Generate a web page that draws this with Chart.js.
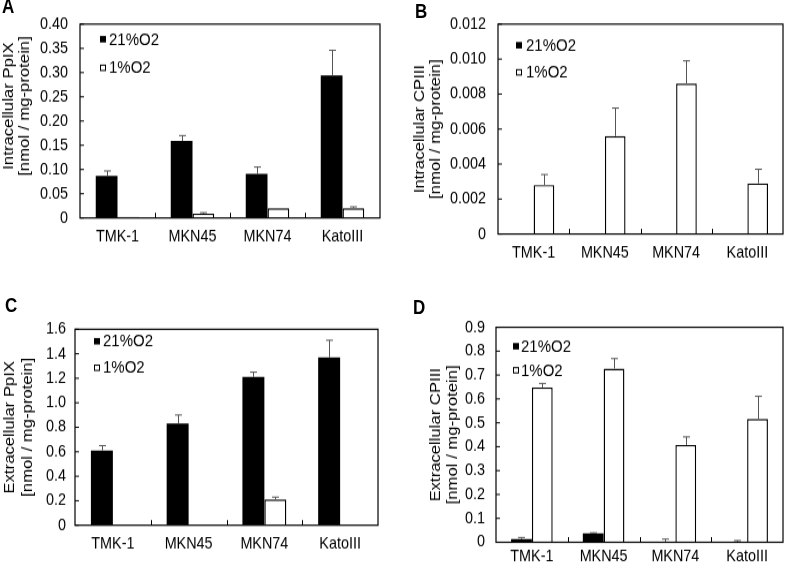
<!DOCTYPE html>
<html>
<head>
<meta charset="utf-8">
<script src="https://cdn.jsdelivr.net/npm/chart.js@4.4.1/dist/chart.umd.min.js"></script>
<style>
  html, body { margin: 0; padding: 0; background: #fff; }
  body { width: 786px; height: 565px; overflow: hidden; position: relative; }
  #stage { position: absolute; left: 0; top: 0; width: 786px; transform-origin: 0 0; }
  .panel { position: absolute; }
  .letter { position: absolute; font: bold 17px 'Liberation Sans', Arial, sans-serif; line-height: 1; color: #000; }
</style>
</head>
<body>
<div id="stage"></div>
<script>
// Categories and series
const cellLines = ['TMK-1', 'MKN45', 'MKN74', 'KatoIII'];
const seriesNames = ['21%O2', '1%O2'];

// A - intracellular PpIX (value, SD)
const inPpix21 = [0.087, 0.159, 0.091, 0.294];
const inPpix21Sd = [0.010, 0.011, 0.014, 0.052];
const inPpix1 = [0.002, 0.009, 0.020, 0.020];
const inPpix1Sd = [0, 0.002, 0, 0.003];

// B - intracellular CPIII
const inCp21 = [0, 0, 0, 0];
const inCp21Sd = [0, 0, 0, 0];
const inCp1 = [0.0028, 0.0056, 0.0086, 0.0029];
const inCp1Sd = [0.0006, 0.0016, 0.0013, 0.0008];

// C - extracellular PpIX
const exPpix21 = [0.61, 0.83, 1.21, 1.37];
const exPpix21Sd = [0.04, 0.07, 0.04, 0.14];
const exPpix1 = [0, 0, 0.21, 0];
const exPpix1Sd = [0, 0, 0.02, 0];

// D - extracellular CPIII
const exCp21 = [0.013, 0.037, 0.003, 0.002];
const exCp21Sd = [0.007, 0.003, 0.010, 0.005];
const exCp1 = [0.648, 0.727, 0.407, 0.516];
const exCp1Sd = [0.017, 0.042, 0.034, 0.095];

// y axis ranges: [max, step, decimals]
const yAxisA = [0.40, 0.05, 2];
const yAxisB = [0.012, 0.002, 3];
const yAxisC = [1.6, 0.2, 1];
const yAxisD = [0.9, 0.1, 1];

// the source figure is stretched a little vertically
const SY = 1.15;
const FONT_FAMILY = "'Liberation Sans', Arial, Helvetica, sans-serif";

const stage = document.getElementById('stage');
stage.style.height = (565 / SY) + 'px';
stage.style.transform = 'scaleY(' + SY + ')';

/**
 * Frame, inward ticks, error bars, legend and axis title
 */
const figurePlugin = {
    id: 'figure',
    afterDatasetsDraw(chart, args, opts) {
        const { ctx, chartArea: a, scales: { x, y } } = chart;
        ctx.save();

        // error bars (upper only)
        ctx.strokeStyle = '#555';
        ctx.lineWidth = 1;
        chart.data.datasets.forEach((ds, di) => {
            const meta = chart.getDatasetMeta(di);
            meta.data.forEach((bar, i) => {
                const e = ds.errors[i];
                if (!e) return;
                const top = y.getPixelForValue(ds.data[i] + e);
                const bx = Math.round(bar.x) + 0.5;
                ctx.beginPath();
                ctx.moveTo(bx, bar.y);
                ctx.lineTo(bx, top);
                ctx.moveTo(bx - 3.5, top);
                ctx.lineTo(bx + 3.5, top);
                ctx.stroke();
            });
        });

        // plot frame
        ctx.strokeStyle = '#000';
        ctx.lineWidth = 1.2;
        ctx.strokeRect(a.left, a.top, a.right - a.left, a.bottom - a.top);

        // y tick marks pointing inside
        ctx.lineWidth = 1;
        ctx.beginPath();
        y.ticks.forEach(t => {
            const py = y.getPixelForValue(t.value);
            ctx.moveTo(a.left, py);
            ctx.lineTo(a.left + 4, py);
        });
        // x tick marks between categories
        for (let i = 1; i < cellLines.length; i++) {
            const px = Math.round((x.getPixelForValue(i - 1) + x.getPixelForValue(i)) / 2) + 0.5;
            ctx.moveTo(px, a.bottom);
            ctx.lineTo(px, a.bottom - 4.5);
        }
        ctx.stroke();

        // legend inside the plot
        const lg = opts.legend;
        ctx.font = '15px ' + FONT_FAMILY;
        ctx.textBaseline = 'middle';
        ctx.textAlign = 'left';
        chart.data.datasets.forEach((ds, di) => {
            const cy = a.top + lg.rows[di] / SY;
            const mx = a.left + lg.marker;
            ctx.fillStyle = ds.backgroundColor;
            ctx.fillRect(mx, cy - 2.8, 6, 5.6);
            if (ds.borderWidth) {
                ctx.strokeStyle = '#000';
                ctx.lineWidth = 1;
                ctx.strokeRect(mx + 0.5, cy - 2.3, 5, 4.6);
            }
            ctx.fillStyle = '#000';
            ctx.fillText(ds.label, a.left + lg.text, cy + 0.5);
        });

        // two-line rotated y title
        const tt = opts.title;
        ctx.font = '14.5px ' + FONT_FAMILY;
        ctx.textAlign = 'center';
        const cy = (a.top + a.bottom) / 2 + tt.dy / SY;
        tt.lines.forEach((line, i) => {
            ctx.save();
            ctx.translate(tt.x[i], cy);
            ctx.rotate(-Math.PI / 2);
            ctx.fillText(line, 0, 0);
            ctx.restore();
        });

        ctx.restore();
    }
};

/**
 * Build one panel; box and plot are given in figure pixels
 */
function makePanel(p) {
    const [bx, by, bw, bh] = p.box;
    const [pl, pr, pt, pb] = p.plot;
    const [yMax, yStep, yDec] = p.yAxis;

    const div = document.createElement('div');
    div.className = 'panel';
    div.style.left = bx + 'px';
    div.style.top = (by / SY) + 'px';
    div.style.width = bw + 'px';
    div.style.height = (bh / SY) + 'px';
    const canvas = document.createElement('canvas');
    div.appendChild(canvas);
    stage.appendChild(div);

    const letter = document.createElement('div');
    letter.className = 'letter';
    letter.textContent = p.letter;
    letter.style.left = p.letterPos[0] + 'px';
    letter.style.top = (p.letterPos[1] / SY - 2.2) + 'px';
    stage.appendChild(letter);

    const tickFont = { family: FONT_FAMILY, size: 14.4 };

    return new Chart(canvas, {
        type: 'bar',
        data: {
            labels: cellLines,
            datasets: [
                { label: seriesNames[0], data: p.high, errors: p.highSd, backgroundColor: '#000', borderWidth: 0 },
                { label: seriesNames[1], data: p.low, errors: p.lowSd, backgroundColor: '#fff', borderColor: '#000', borderWidth: 1.4 },
            ]
        },
        options: {
            responsive: true,
            maintainAspectRatio: false,
            animation: false,
            devicePixelRatio: 1,
            layout: { padding: { top: (pt - by) / SY, right: bx + bw - pr, left: 0, bottom: 0 } },
            datasets: { bar: { categoryPercentage: 0.58, barPercentage: 1.0 } },
            plugins: {
                legend: { display: false },
                tooltip: { enabled: false },
                figure: { legend: p.legend, title: p.title },
            },
            scales: {
                x: {
                    grid: { display: false, drawTicks: false },
                    border: { display: false },
                    ticks: { font: tickFont, color: '#000', padding: p.labelPad / SY, maxRotation: 0, autoSkip: false },
                    afterFit: s => { s.height = (by + bh - pb) / SY; },
                },
                y: {
                    min: 0,
                    max: yMax,
                    grid: { display: false, drawTicks: false },
                    border: { display: false },
                    ticks: {
                        stepSize: yStep,
                        autoSkip: false,
                        font: tickFont,
                        color: '#000',
                        padding: p.tickPad,
                        callback: v => (Math.abs(v) < 1e-9 ? '0' : Number(v).toFixed(yDec)),
                    },
                    afterFit: s => { s.width = pl - bx; },
                },
            },
        },
        plugins: [figurePlugin],
    });
}

makePanel({
    letter: 'A', letterPos: [2, -1],
    box: [0, 0, 393, 262], plot: [80, 380, 24, 217],
    high: inPpix21, highSd: inPpix21Sd, low: inPpix1, lowSd: inPpix1Sd,
    yAxis: yAxisA, tickPad: 12, labelPad: 9,
    legend: { marker: 20, text: 29, rows: [15, 43.5] },
    title: { lines: ['Intracellular PpIX', '[nmol / mg-protein]'], x: [9, 25], dy: -15 },
});

makePanel({
    letter: 'B', letterPos: [415, 5],
    box: [393, 0, 393, 262], plot: [498, 783, 24, 233],
    high: inCp21, highSd: inCp21Sd, low: inCp1, lowSd: inCp1Sd,
    yAxis: yAxisB, tickPad: 12, labelPad: 9,
    legend: { marker: 18, text: 28, rows: [21, 48] },
    title: { lines: ['Intracellular CPIII', '[nmol / mg-protein]'], x: [26.5, 43], dy: 0 },
});

makePanel({
    letter: 'C', letterPos: [5, 298],
    box: [0, 270, 393, 295], plot: [75, 378, 329, 525],
    high: exPpix21, highSd: exPpix21Sd, low: exPpix1, lowSd: exPpix1Sd,
    yAxis: yAxisC, tickPad: 9, labelPad: 9,
    legend: { marker: 19, text: 28, rows: [12, 38.5] },
    title: { lines: ['Extracellular PpIX', '[nmol / mg-protein]'], x: [10, 27.5], dy: 0 },
});

makePanel({
    letter: 'D', letterPos: [413, 300],
    box: [393, 270, 393, 295], plot: [496, 783, 327, 542],
    high: exCp21, highSd: exCp21Sd, low: exCp1, lowSd: exCp1Sd,
    yAxis: yAxisD, tickPad: 11, labelPad: 5,
    legend: { marker: 17, text: 25, rows: [19, 43] },
    title: { lines: ['Extracellular CPIII', '[nmol / mg-protein]'], x: [42.5, 60], dy: 0 },
});
</script>
</body>
</html>
